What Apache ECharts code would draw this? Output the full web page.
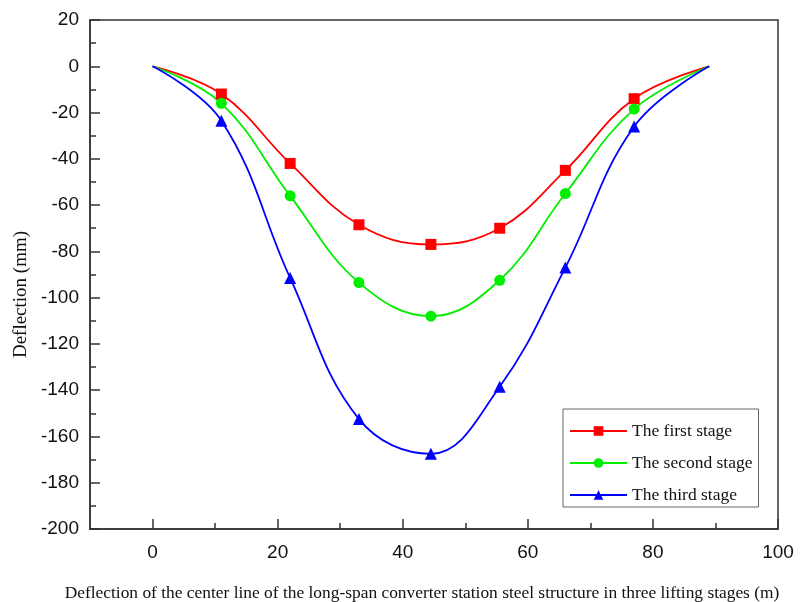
<!DOCTYPE html>
<html>
<head>
<meta charset="utf-8">
<script src="https://cdn.jsdelivr.net/npm/echarts@6/dist/echarts.min.js"></script>
<style>html,body{margin:0;padding:0;background:#fff}#c{width:807px;height:602px}</style>
</head>
<body>
<div id="c"></div>
<script>
const positions = [0, 11, 22, 33, 44.5, 55.5, 66, 77, 89];
const firstStage = [0, -12, -42, -68.5, -77, -70, -45, -14, 0];
const secondStage = [0, -16, -56, -93.5, -108, -92.5, -55, -18.5, 0];
const thirdStage = [0, -23.5, -91.5, -152.5, -167.5, -138.5, -87, -26, 0];
const seriesNames = ['The first stage', 'The second stage', 'The third stage'];
const xMajorTicks = [0, 20, 40, 60, 80, 100];
const xMinorTicks = [10, 30, 50, 70, 90];

const chart = echarts.init(document.getElementById('c'), null, {renderer: 'canvas'});
const sans = 'Liberation Sans, Arial, sans-serif';
const serif = 'Liberation Serif, Times New Roman, serif';
const axisColor = '#333';

function pairs(vals) {
  return vals.map((v, i) => [positions[i], v]);
}
function symSize(base) {
  return function (val, params) {
    const last = positions.length - 1;
    return (params.dataIndex === 0 || params.dataIndex === last) ? 0 : base;
  };
}
function mkSeries(name, vals, color, symbol, size) {
  return {
    name: name, type: 'line', data: pairs(vals), smooth: 0.4,
    symbol: symbol, symbolSize: symSize(size), showAllSymbol: true,
    itemStyle: {color: color}, lineStyle: {color: color, width: 1.8},
    emphasis: {disabled: true}, z: 3
  };
}

chart.setOption({
  animation: false,
  backgroundColor: '#fff',
  grid: {left: 90, right: 29, top: 20, bottom: 73, outerBoundsMode: 'none', containLabel: false,
    show: true, borderColor: axisColor, borderWidth: 1.5, backgroundColor: 'transparent'},
  legend: {
    orient: 'vertical', left: 563, top: 409,
    itemWidth: 57, itemHeight: 12, itemGap: 14,
    padding: [13, 6, 3, 6],
    borderColor: '#666', borderWidth: 1,
    textStyle: {fontFamily: serif, fontSize: 17.5, color: '#111'},
    data: seriesNames
  },
  xAxis: [{
    type: 'value', min: -10, max: 100,
    name: 'Deflection of the center line of the long-span converter station steel structure in three lifting stages (m)',
    nameLocation: 'middle', nameGap: 56,
    nameTextStyle: {fontFamily: serif, fontSize: 17.4, color: '#111', padding: [0, 24, 0, 0]},
    axisLine: {onZero: false, lineStyle: {color: axisColor, width: 1.5}},
    axisTick: {inside: true, length: 10, customValues: xMajorTicks, lineStyle: {color: axisColor, width: 1.5}},
    axisLabel: {customValues: xMajorTicks, fontFamily: sans, fontSize: 19, color: '#111', margin: 14},
    splitLine: {show: false}
  }, {
    type: 'value', min: -10, max: 100, position: 'bottom',
    axisLine: {show: false, onZero: false},
    axisTick: {inside: true, length: 6, customValues: xMinorTicks, lineStyle: {color: axisColor, width: 1.5}},
    axisLabel: {show: false},
    splitLine: {show: false}
  }],
  yAxis: {
    type: 'value', min: -200, max: 20, interval: 20,
    name: 'Deflection (mm)', nameLocation: 'middle', nameGap: 53,
    nameTextStyle: {fontFamily: serif, fontSize: 19, color: '#111', padding: [0, 40, 0, 0]},
    axisLine: {onZero: false, lineStyle: {color: axisColor, width: 1.5}},
    axisTick: {inside: true, length: 10, lineStyle: {color: axisColor, width: 1.5}},
    minorTick: {show: true, splitNumber: 2, length: 6, lineStyle: {color: axisColor, width: 1.5}},
    axisLabel: {fontFamily: sans, fontSize: 19, color: '#111', margin: 11},
    splitLine: {show: false}
  },
  series: [
    mkSeries(seriesNames[0], firstStage, '#ff0000', 'rect', 11),
    mkSeries(seriesNames[1], secondStage, '#00ee00', 'circle', 11),
    mkSeries(seriesNames[2], thirdStage, '#0000ff', 'triangle', 12)
  ]
});
</script>
</body>
</html>
